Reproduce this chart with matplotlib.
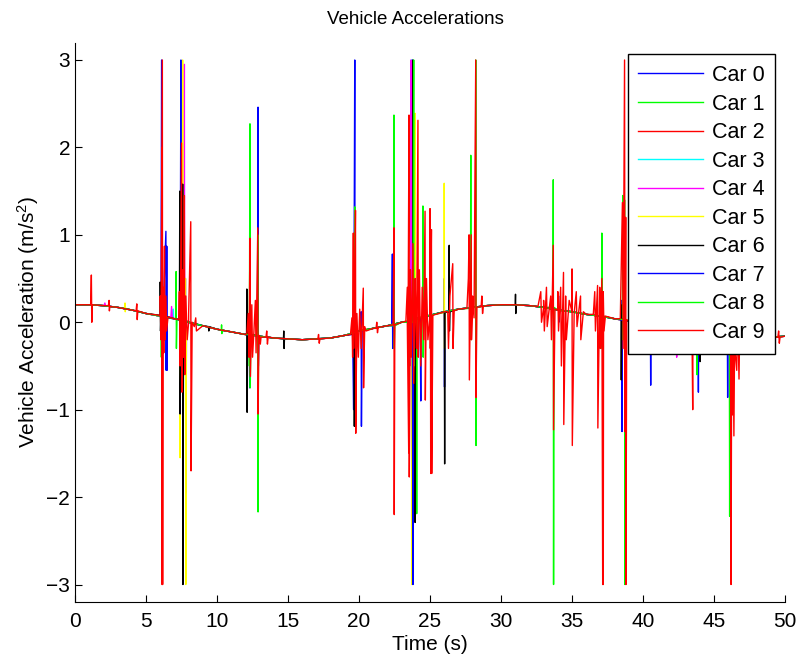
# Chart: vehicle accelerations for 10 cars
# Run: python plot.py

import matplotlib
matplotlib.use('Agg')
import matplotlib.pyplot as plt

# ----------------------------------------------
# Data
# ----------------------------------------------
base_t = list(range(51))
base_v = [0.20, 0.20, 0.19, 0.17, 0.14, 0.10, 0.07, 0.04, 0.00, -0.04,
          -0.08, -0.11, -0.14, -0.16, -0.18, -0.19, -0.20, -0.19, -0.18, -0.15,
          -0.10, -0.07, -0.04, 0.00, 0.04, 0.08, 0.12, 0.15, 0.17, 0.19,
          0.20, 0.20, 0.19, 0.17, 0.14, 0.12, 0.09, 0.07, 0.04, 0.01,
          -0.03, -0.06, -0.09, -0.12, -0.14, -0.16, -0.17, -0.18, -0.18, -0.17,
          -0.16]

car_names = ['Car 0', 'Car 1', 'Car 2', 'Car 3', 'Car 4',
             'Car 5', 'Car 6', 'Car 7', 'Car 8', 'Car 9']
car_colors = ['#0000ff', '#00ff00', '#ff0000', '#00ffff', '#ff00ff',
              '#ffff00', '#000000', '#0000ff', '#00ff00', '#ff0000']

spikes_car0 = [(6.05, 0.08), (6.10, 3.00), (6.12, -0.10), (6.20, 0.07), (6.40, 1.04),
               (6.42, -0.55), (6.46, 0.87), (6.48, 0.05),
               (7.40, 0.03), (7.46, 3.00), (7.48, -0.40), (7.55, 0.02), (7.78, 0.50),
               (7.80, -1.95), (7.85, 0.02),
               (12.25, -0.14), (12.28, 0.10), (12.30, -0.75), (12.35, -0.14),
               (12.85, -0.16), (12.89, 2.46), (12.91, -0.50), (12.95, -0.16),
               (19.55, -0.14), (19.62, -1.00), (19.70, 3.00), (19.72, -0.30), (19.80, -0.12),
               (22.30, -0.04), (22.35, 0.78), (22.37, -0.30), (22.40, -0.04),
               (23.60, 0.00), (23.75, 3.00), (23.77, -0.80), (23.85, 0.00),
               (25.95, 0.11), (26.00, 0.50), (26.02, -0.74), (26.05, 0.11),
               (38.45, 0.04), (38.50, 0.25), (38.52, -1.25), (38.55, 0.03),
               (40.52, -0.04), (40.54, -0.72), (40.56, -0.04),
               (43.88, -0.14), (43.90, -0.80), (43.92, -0.14)]

spikes_car1 = [(6.06, 0.08), (6.08, -0.40), (6.10, 0.08),
               (7.10, 0.04), (7.12, 0.58), (7.14, -0.30), (7.18, 0.04),
               (7.55, 0.02), (7.60, 1.35), (7.62, -1.00), (7.65, 0.02),
               (12.28, -0.14), (12.32, 2.27), (12.34, -0.75), (12.38, -0.14),
               (12.85, -0.16), (12.87, 1.00), (12.89, -2.17), (12.92, -0.16),
               (19.68, -0.12), (19.70, 1.32), (19.72, -0.60), (19.76, -0.12),
               (22.44, -0.04), (22.46, 2.37), (22.48, -0.30), (22.52, -0.04),
               (24.04, 0.04), (24.06, -2.19), (24.08, 0.04), (24.48, 0.05),
               (24.50, 1.33), (24.52, -0.40), (24.55, 0.05),
               (27.85, 0.16), (27.87, 1.91), (27.89, -0.20), (27.92, 0.16),
               (33.66, 0.17), (33.68, 1.63), (33.70, -3.00), (33.73, 0.17),
               (37.08, 0.07), (37.10, 1.02), (37.12, -0.30), (37.15, 0.07),
               (38.55, 0.04), (38.57, 1.45), (38.59, -0.20), (38.62, 0.04),
               (46.08, -0.17), (46.10, -2.22), (46.12, -0.17)]

spikes_car2 = [(6.10, 0.07), (6.12, 2.00), (6.13, -3.00), (6.16, 0.07),
               (23.40, 0.00), (23.50, -1.50), (23.52, 0.50), (23.55, 0.00),
               (25.03, 0.08), (25.05, -1.73), (25.07, 0.08),
               (37.18, 0.07), (37.20, -3.00), (37.22, 0.07),
               (46.35, -0.17), (46.40, -1.30), (46.45, -0.17)]

spikes_car3 = [(6.90, 0.05), (6.92, 0.15), (6.94, 0.05),
               (23.68, 0.00), (23.70, 3.00), (23.72, -0.50), (23.75, 0.00)]

spikes_car4 = [(2.05, 0.19), (2.10, 0.22), (2.15, 0.19),
               (6.75, 0.06), (6.80, 0.18), (6.85, 0.06),
               (7.68, 0.03), (7.70, 2.95), (7.72, -0.30), (7.75, 0.03),
               (23.62, 0.00), (23.65, 3.00), (23.67, -0.50), (23.70, 0.00),
               (42.35, -0.10), (42.37, -0.40), (42.39, -0.10)]

spikes_car5 = [(3.50, 0.16), (3.52, 0.22), (3.54, 0.12), (3.56, 0.16),
               (7.38, 0.03), (7.40, -1.55), (7.42, 0.03), (7.56, 0.02), (7.58, 3.00),
               (7.60, -0.30), (7.78, 0.50), (7.80, -3.00), (7.82, 0.02),
               (23.70, 0.00), (23.72, -3.00), (23.74, 0.00), (23.93, 0.03),
               (23.95, 2.39), (23.97, -0.30), (24.00, 0.04),
               (25.98, 0.11), (26.00, 1.59), (26.02, -0.30), (26.05, 0.11)]

spikes_car6 = [(5.95, 0.08), (6.00, 0.46), (6.02, -0.10), (6.05, 0.08),
               (7.35, 0.03), (7.38, 1.50), (7.40, -1.05), (7.45, 0.03), (7.56, 0.02),
               (7.58, 1.58), (7.60, -3.00), (7.63, 0.02),
               (9.40, -0.05), (9.42, -0.10), (9.44, -0.05),
               (12.08, -0.13), (12.10, 0.38), (12.12, -1.03), (12.15, -0.13),
               (14.68, -0.19), (14.70, -0.10), (14.72, -0.30), (14.75, -0.19),
               (19.63, -0.13), (19.65, 0.10), (19.67, -1.19), (19.70, -0.12),
               (23.78, 0.00), (23.80, 3.00), (23.82, -0.40), (23.92, 0.03),
               (23.95, -2.29), (23.97, 0.03),
               (26.01, 0.11), (26.03, -1.62), (26.05, 0.11), (26.33, 0.12),
               (26.35, 0.88), (26.37, -0.10), (26.40, 0.12),
               (31.00, 0.20), (31.02, 0.32), (31.04, 0.10), (31.06, 0.20),
               (38.43, 0.04), (38.45, 0.20), (38.47, -0.66), (38.50, 0.04),
               (44.00, -0.14), (44.02, -0.45), (44.04, -0.14)]

spikes_car7 = [(6.45, 0.05), (6.48, -0.55), (6.50, 0.05),
               (20.10, -0.10), (20.15, 0.12), (20.17, -1.19), (20.22, -0.10),
               (23.75, 0.00), (23.80, -3.00), (23.82, 0.00),
               (24.30, 0.05), (24.35, -0.90), (24.37, 0.05),
               (34.00, 0.14), (34.05, 0.30), (34.07, 0.00), (34.10, 0.14),
               (45.94, -0.16), (45.96, -0.86), (45.98, -0.16)]

spikes_car8 = [(10.30, -0.09), (10.32, -0.03), (10.34, -0.13), (10.36, -0.09),
               (12.25, -0.14), (12.28, -0.50), (12.30, -0.14),
               (23.80, 0.00), (23.85, 3.00), (23.87, -0.50), (23.90, 0.00),
               (28.20, 0.17), (28.22, 3.00), (28.24, -1.41), (28.27, 0.17),
               (38.68, 0.03), (38.70, 1.40), (38.72, -3.00), (38.75, 0.03),
               (43.78, -0.14), (43.80, -0.60), (43.82, -0.14)]

spikes_car9 = [(1.10, 0.20), (1.15, 0.54), (1.18, 0.00), (1.22, 0.20),
               (2.35, 0.19), (2.40, 0.25), (2.42, 0.13), (2.45, 0.18),
               (4.30, 0.13), (4.35, 0.21), (4.38, 0.03), (4.42, 0.13),
               (5.90, 0.08), (6.00, 0.30), (6.05, -0.20), (6.13, 2.35), (6.15, 3.00),
               (6.17, -3.00), (6.20, 0.40), (6.25, -0.35), (6.30, 0.87), (6.33, -0.20),
               (6.40, 0.30), (6.45, -0.10), (6.55, 0.06),
               (7.30, 0.03), (7.35, 0.35), (7.40, -0.50), (7.50, 2.05), (7.53, -0.80),
               (7.60, 0.60), (7.65, -0.40), (7.70, 1.45), (7.73, -0.60), (7.80, 0.30),
               (7.90, -0.20), (8.00, 0.10), (8.15, 1.15), (8.17, -1.70), (8.25, 0.00),
               (8.40, -0.05), (8.50, 0.05), (8.55, -0.10),
               (12.10, -0.13), (12.20, 0.10), (12.25, -0.40), (12.32, 0.96),
               (12.35, -0.62), (12.45, 0.20), (12.50, -0.40), (12.60, -0.10),
               (12.70, 0.25), (12.75, -0.35), (12.87, 1.08), (12.89, -1.05),
               (12.95, -0.15), (13.05, -0.25), (13.10, -0.17),
               (13.45, -0.17), (13.50, -0.10), (13.55, -0.25), (13.60, -0.17),
               (17.10, -0.19), (17.15, -0.14), (17.20, -0.24), (17.25, -0.19),
               (19.40, -0.14), (19.50, 0.05), (19.55, -0.40), (19.60, 1.02),
               (19.62, -0.30), (19.70, 0.40), (19.75, 1.28), (19.77, -1.27),
               (19.85, 0.10), (19.95, -0.40), (20.05, 0.15), (20.15, -0.30),
               (20.30, 0.39), (20.32, -0.75), (20.40, -0.05), (20.50, -0.10),
               (21.20, -0.07), (21.25, 0.00), (21.30, -0.12), (21.35, -0.06),
               (22.40, -0.03), (22.46, 1.08), (22.48, -2.20), (22.52, -0.03),
               (23.30, 0.01), (23.40, 0.40), (23.45, -0.30), (23.52, 2.37),
               (23.54, -1.77), (23.62, 0.60), (23.68, -0.40), (23.80, 0.90),
               (23.85, -0.70), (23.95, 0.50), (24.05, -0.30), (24.15, 2.31),
               (24.17, -0.40), (24.25, 0.60), (24.35, -0.50), (24.45, 0.40),
               (24.55, -0.20), (24.65, 1.27), (24.67, -0.89), (24.75, 0.50),
               (24.85, -0.20), (25.00, 1.30), (25.02, -0.30), (25.10, 1.06),
               (25.12, -1.73), (25.20, 0.08),
               (26.25, 0.12), (26.30, -0.30), (26.40, 0.30), (26.60, 0.67),
               (26.62, -0.30), (26.70, 0.13),
               (27.60, 0.16), (27.70, 0.50), (27.75, 1.00), (27.77, -0.66),
               (27.85, 0.40), (27.90, 1.00), (27.92, -0.20), (28.00, 0.30),
               (28.10, 0.05), (28.22, 3.00), (28.24, -0.86), (28.30, 0.17),
               (28.60, 0.18), (28.65, 0.30), (28.70, 0.10), (28.75, 0.18),
               (32.60, 0.18), (32.80, 0.35), (32.85, 0.00), (33.00, 0.25),
               (33.05, -0.10), (33.20, 0.40), (33.25, -0.05), (33.50, 0.30),
               (33.55, -0.20), (33.68, 0.88), (33.70, -1.23), (33.80, 0.15),
               (34.00, 0.35), (34.05, -0.10), (34.20, 0.40), (34.25, -0.50),
               (34.40, 0.57), (34.42, -1.17), (34.55, 0.30), (34.60, -0.20),
               (34.80, 0.25), (35.00, 0.61), (35.02, -1.41), (35.15, 0.10),
               (35.30, 0.35), (35.35, -0.05), (35.60, 0.30), (35.62, -0.20),
               (35.80, 0.12),
               (36.50, 0.09), (36.60, 0.35), (36.65, -0.10), (36.80, 0.42),
               (36.82, -1.21), (36.95, 0.40), (37.00, -0.30), (37.10, 0.50),
               (37.16, -3.00), (37.20, 0.35), (37.25, -0.10), (37.35, 0.07),
               (38.40, 0.04), (38.55, 1.37), (38.60, -0.30), (38.70, 3.00),
               (38.73, -1.25), (38.78, 1.20), (38.80, -3.00), (38.85, 0.03),
               (43.45, -0.12), (43.50, -1.00), (43.52, 0.30), (43.55, -0.12),
               (46.05, -0.17), (46.15, 0.40), (46.20, -3.00), (46.25, 0.20),
               (46.30, -1.06), (46.35, 0.10), (46.45, -0.30), (46.60, -0.55),
               (46.65, 0.20), (46.76, -0.65), (46.80, -0.17),
               (49.50, -0.17), (49.55, -0.10), (49.60, -0.24), (49.65, -0.17)]

all_spikes = [spikes_car0, spikes_car1, spikes_car2, spikes_car3, spikes_car4,
              spikes_car5, spikes_car6, spikes_car7, spikes_car8, spikes_car9]


#-------------------------------------------------
# Builds one car's series: smooth base plus spikes
#-------------------------------------------------
def car_series(spikes):
    pts = list(zip(base_t, base_v)) + spikes
    pts.sort(key=lambda p: p[0])
    return [p[0] for p in pts], [p[1] for p in pts]


def main():
    plt.rcParams['font.family'] = ['Liberation Sans', 'DejaVu Sans']
    plt.rcParams['mathtext.default'] = 'regular'

    fig = plt.figure(figsize=(7.99, 6.6), dpi=100)
    ax = fig.add_axes([0.0939, 0.0879, 0.8886, 0.8477])

    for name, color, spikes in zip(car_names, car_colors, all_spikes):
        t, v = car_series(spikes)
        ax.plot(t, v, color=color, lw=1.0, label=name)

    ax.set_xlim(0, 50)
    ax.set_ylim(-3.2, 3.2)
    ax.set_xticks(range(0, 51, 5))
    ax.set_yticks(range(-3, 4))
    ax.tick_params(direction='in', length=5, labelsize=15, width=0.8)
    ax.tick_params(axis='x', pad=7)
    ax.spines['top'].set_visible(False)
    ax.spines['right'].set_visible(False)

    ax.set_title('Vehicle Accelerations', fontsize=13.5, pad=13, x=0.479)
    ax.set_xlabel('Time (s)', fontsize=15, labelpad=3)
    ax.set_ylabel('Vehicle Acceleration (m/s$^{2}$)', fontsize=15, labelpad=4)

    leg = ax.legend(loc='upper right', bbox_to_anchor=(0.986, 0.979),
                    borderaxespad=0, fancybox=False, edgecolor='black',
                    framealpha=1, fontsize=15.5, handlelength=3.0,
                    handletextpad=0.4, labelspacing=0.35, borderpad=0.5)
    leg.get_frame().set_linewidth(1.0)

    fig.savefig('out.png', dpi=100)


if __name__ == '__main__':
    main()
